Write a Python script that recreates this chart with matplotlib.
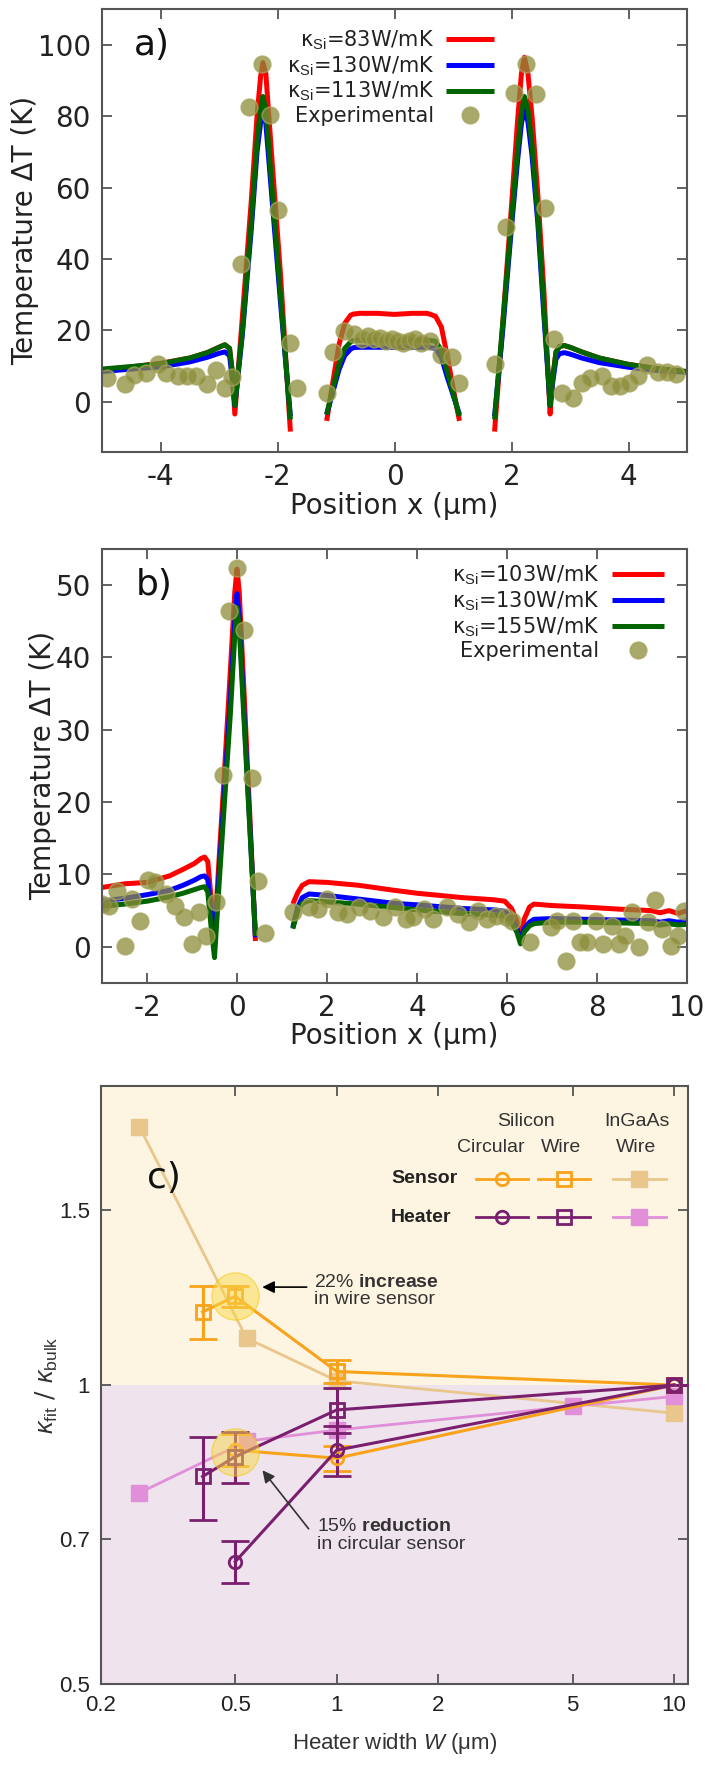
import matplotlib
matplotlib.use('Agg')
import matplotlib.pyplot as plt
from matplotlib.ticker import FixedLocator, NullLocator, FixedFormatter

plt.rcParams['font.family'] = ['DejaVu Sans']
plt.rcParams['mathtext.fontset'] = 'custom'
plt.rcParams['mathtext.rm'] = 'Liberation Sans'
plt.rcParams['mathtext.it'] = 'Liberation Sans:italic'
plt.rcParams['mathtext.bf'] = 'Liberation Sans:bold'

# ---- panel a: three simulated segments per curve + experiment
a_left_x = [-5, -4.5, -4, -3.5, -3.2, -3.0, -2.9, -2.82, -2.77, -2.73, -2.6, -2.45, -2.35, -2.29, -2.25, -2.2, -2.1, -1.95, -1.78]
a_left_red = [9, 9.8, 10.8, 12.3, 13.8, 15.3, 16, 15, 8, -3.4, 24, 56, 80, 91, 95, 92, 69, 36, -8.3]
a_left_blue = [8.5, 9.2, 9.8, 11.2, 12.5, 13.6, 14, 13, 6, -1, 19, 48, 70, 78, 81.5, 78, 58, 28, -4]
a_left_green = [9.2, 9.9, 10.7, 12.3, 13.8, 15.3, 16, 15, 8, -1, 20, 50, 73, 82, 85.5, 82, 61, 30, -4.9]
a_mid_x = [-1.16, -1.05, -0.95, -0.85, -0.75, -0.7, -0.6, -0.3, 0, 0.3, 0.56, 0.7, 0.8, 0.9, 1.0, 1.11]
a_mid_red = [-5.3, 6, 16, 22, 24.3, 24.6, 24.8, 24.8, 24.5, 24.8, 24.8, 24, 21, 13, 4, -5.3]
a_mid_blue = [-3.5, 3, 9, 13, 14.8, 15.2, 15.3, 15.3, 15.3, 15.3, 15.3, 15, 12.5, 7, 2, -3.5]
a_mid_green = [-3.5, 4, 10.5, 15, 16.8, 17.2, 17.3, 17.3, 17.2, 17.3, 17.3, 17, 14.5, 8.5, 2.5, -4]
a_right_x = [1.71, 1.85, 2.0, 2.1, 2.17, 2.22, 2.28, 2.35, 2.45, 2.55, 2.66, 2.7, 2.76, 2.82, 2.9, 3.0, 3.2, 3.5, 4.0, 4.5, 5.0]
a_right_red = [-8.3, 22, 55, 78, 92, 96.5, 92, 80, 58, 32, -3.4, 6, 14, 15.5, 15.8, 15.3, 14, 12.3, 10.5, 9.3, 8.5]
a_right_blue = [-4, 20, 49, 67, 78, 82, 78.5, 69, 50, 25, -1, 5, 12, 13.5, 13.8, 13.4, 12.3, 11, 9.7, 8.8, 8.3]
a_right_green = [-4.9, 22, 51, 70, 81, 85.5, 82, 72, 52, 27, -1, 6, 14, 15.5, 15.8, 15.3, 14, 12.3, 10.5, 9.3, 8.5]
a_exp_x = [-4.92, -4.6, -4.45, -4.25, -4.05, -3.9, -3.7, -3.55, -3.4, -3.2, -3.05, -2.9, -2.78,
           -2.63, -2.48, -2.27, -2.12, -1.99, -1.79, -1.66,
           -1.16, -1.05, -0.86, -0.7, -0.55, -0.45, -0.35, -0.25, -0.15, -0.05, 0.05, 0.15, 0.25, 0.35, 0.45, 0.6,
           0.79, 0.98, 1.11,
           1.71, 1.9, 2.05, 2.24, 2.42, 2.57, 2.73, 2.86, 3.05, 3.2, 3.35, 3.55, 3.7, 3.85, 4.0, 4.16, 4.31, 4.5, 4.66, 4.81]
a_exp_y = [6.8, 4.9, 7.5, 8.0, 10.7, 8.0, 7.3, 7.3, 7.3, 5.0, 8.8, 4.0, 7.0,
           38.6, 82.7, 94.7, 80.3, 53.6, 16.5, 3.9,
           2.4, 14.1, 19.9, 18.9, 17.5, 18.5, 17.5, 18, 17, 17.5, 17, 16.5, 17, 17.5, 16.5, 17,
           13.1, 12.6, 5.3,
           10.7, 49, 86.6, 94.7, 86.2, 54.4, 17.5, 2.4, 1.0, 5.3, 6.8, 7.3, 4.4, 4.4, 5.3, 7.3, 10.2, 8.3, 8.3, 7.8]
a_labels = ['κ$_{\\rm Si}$=83W/mK', 'κ$_{\\rm Si}$=130W/mK', 'κ$_{\\rm Si}$=113W/mK', 'Experimental']

# ---- panel b
b_left_x = [-3, -2.5, -2, -1.5, -1.2, -0.95, -0.8, -0.72, -0.65, -0.58, -0.5, -0.4, -0.3, -0.15, -0.05, 0, 0.05, 0.15, 0.3, 0.41]
b_left_red = [8.2, 8.7, 8.9, 9.8, 10.7, 11.5, 12.2, 12.4, 11.8, 7, 1.3, 12, 22, 38, 49, 52.2, 49, 36, 16, 0.8]
b_left_blue = [6.3, 6.7, 7.2, 7.8, 8.5, 9.2, 9.7, 9.8, 9.3, 5, 0.5, 10, 19.5, 34, 45, 48.8, 45.5, 33, 15, 1.3]
b_left_green = [5.6, 5.9, 6.3, 6.9, 7.4, 7.9, 8.2, 8.3, 7.6, 3, -1.5, 8.5, 18, 32, 43, 46.9, 44, 32, 14.5, 1.5]
b_right_x = [1.24, 1.35, 1.45, 1.6, 2.0, 2.7, 3.5, 4.0, 5.0, 5.7, 5.95, 6.1, 6.22, 6.3, 6.38, 6.5, 6.6, 7.0, 7.7, 8.5, 9.2, 9.4, 9.6, 9.8, 10]
b_right_red = [5.9, 7.5, 8.5, 9.0, 8.9, 8.5, 7.8, 7.4, 6.8, 6.5, 6.3, 5.3, 3.5, 1.1, 3.8, 5.5, 5.9, 5.7, 5.5, 5.2, 5.0, 4.7, 5.0, 4.6, 5.0]
b_right_blue = [2.7, 5.5, 6.8, 7.3, 7.1, 6.6, 6.0, 5.8, 5.3, 5.1, 4.9, 4.0, 2.5, 0.8, 2.5, 3.4, 3.8, 3.9, 3.8, 3.7, 3.6, 3.4, 3.6, 3.4, 3.6]
b_right_green = [2.5, 5, 6.0, 6.4, 6.2, 5.9, 5.4, 5.1, 4.6, 4.4, 4.2, 3.4, 2.0, 0.4, 2.0, 2.9, 3.2, 3.4, 3.4, 3.3, 3.2, 3.0, 3.2, 3.0, 3.1]
b_exp_x = [-2.99, -2.84, -2.66, -2.48, -2.33, -2.15, -1.98, -1.83, -1.58, -1.38, -1.18, -1.0, -0.85, -0.7, -0.47,
           -0.32, -0.17, 0, 0.16, 0.33, 0.46, 0.63,
           1.24, 1.59, 1.79, 1.99, 2.24, 2.44, 2.7, 2.95, 3.25, 3.5, 3.75, 3.9, 4.15, 4.36, 4.66, 4.91, 5.16, 5.36,
           5.56, 5.76, 5.97, 6.12, 6.52, 6.97, 7.12, 7.32, 7.47, 7.63, 7.78, 7.98, 8.13, 8.33, 8.48, 8.63, 8.78,
           8.93, 9.13, 9.29, 9.44, 9.64, 9.79, 9.94]
b_exp_y = [5.9, 5.7, 7.7, 0.1, 6.6, 3.6, 9.2, 8.9, 7.3, 5.7, 4.1, 0.4, 4.8, 1.5, 6.2,
           23.8, 46.4, 52.3, 43.8, 23.3, 9.1, 1.9,
           4.8, 5.5, 5.2, 6.6, 4.8, 4.5, 5.5, 5.0, 4.1, 5.5, 3.8, 4.1, 5.2, 3.8, 5.5, 4.5, 3.4, 5.0,
           3.8, 4.3, 4.1, 3.6, 0.6, 2.8, 3.6, -2.0, 3.6, 0.6, 0.6, 3.6, 0.4, 2.9, 0.4, 1.5, 4.8,
           0.0, 3.4, 6.4, 2.5, 0.1, 1.5, 5.0]
b_labels = ['κ$_{\\rm Si}$=103W/mK', 'κ$_{\\rm Si}$=130W/mK', 'κ$_{\\rm Si}$=155W/mK', 'Experimental']

# ---- panel c (log-log)
sens_circ_w = [0.5, 1, 10]
sens_circ_k = [0.86, 0.844, 1.0]
sens_circ_err = [0.032, 0.024, 0]
sens_wire_w = [0.4, 0.5, 1, 10]
sens_wire_k = [1.185, 1.228, 1.032, 1.0]
sens_wire_err = [0.073, 0.03, 0.028, 0]
heat_circ_w = [0.5, 1, 10]
heat_circ_k = [0.664, 0.86, 1.0]
heat_circ_err = [0.032, 0.05, 0]
heat_wire_w = [0.4, 0.5, 1, 10]
heat_wire_k = [0.809, 0.847, 0.944, 1.0]
heat_wire_err = [0.077, 0.05, 0.05, 0]
ingaas_sens_w = [0.26, 0.54, 1, 10]
ingaas_sens_k = [1.82, 1.115, 1.01, 0.937]
ingaas_heat_w = [0.26, 0.54, 1, 5, 10]
ingaas_heat_k = [0.779, 0.878, 0.901, 0.952, 0.974]
highlight_w = [0.5, 0.5]
highlight_k = [1.228, 0.857]

RED, BLUE, GREEN = '#ff0000', '#0000ff', '#006400'
OLIVE = '#8c8c3a'
ORANGE, PURPLE, TAN, PINK = '#f9a21b', '#7a1f6e', '#e8c68c', '#e08fd8'
GRAY = '#555555'

fig = plt.figure(figsize=(7.05, 17.66), dpi=100)
ax_a = fig.add_axes([0.1447, 0.7441, 0.8298, 0.2508])
ax_b = fig.add_axes([0.1447, 0.4434, 0.8298, 0.2458])
ax_c = fig.add_axes([0.1433, 0.0464, 0.8326, 0.3386])


def style_ax(ax, fs, fam):
    for s in ax.spines.values():
        s.set_color(GRAY); s.set_linewidth(1.5)
    ax.tick_params(which='both', direction='in', top=True, right=True, length=7, width=1.3,
                   color=GRAY, labelsize=fs, pad=8)
    for t in ax.get_xticklabels() + ax.get_yticklabels():
        t.set_family(fam); t.set_color('#222222')


def temp_panel(ax, segs, ex, ey, labels, xlim, ylim, xt, yt, tag, tagxy, leg_anchor, ylab_x, hlen):
    lw = 3.6
    for i, (xs, r, b, g) in enumerate(segs):
        ax.plot(xs, r, color=RED, lw=lw, label=labels[0] if i == 0 else None, solid_capstyle='butt')
        ax.plot(xs, b, color=BLUE, lw=lw, label=labels[1] if i == 0 else None, solid_capstyle='butt')
        ax.plot(xs, g, color=GREEN, lw=lw, label=labels[2] if i == 0 else None, solid_capstyle='butt')
    ax.plot(ex, ey, 'o', ms=12, mfc=OLIVE, mec='#a3a35a', mew=1.2, alpha=0.75, ls='none', label=labels[3])
    ax.set_xlim(*xlim); ax.set_ylim(*ylim)
    ax.set_xticks(xt); ax.set_yticks(yt)
    ax.set_xticklabels([str(v) for v in xt]); ax.set_yticklabels([str(v) for v in yt])
    style_ax(ax, 20, 'DejaVu Sans')
    ax.set_xlabel('Position x (μm)', fontsize=20, color='#222222')
    ax.set_ylabel('Temperature ΔT (K)', fontsize=20, color='#222222')
    ax.xaxis.set_label_coords(0.5, -0.122); ax.xaxis.label.set_va('center')
    ax.yaxis.set_label_coords(ylab_x, 0.5); ax.yaxis.label.set_va('center')
    ax.text(tagxy[0], tagxy[1], tag, fontsize=26, va='center', ha='left', color='#111111')
    ax.legend(loc='upper right', bbox_to_anchor=leg_anchor, frameon=False, markerfirst=False,
              fontsize=15, handlelength=hlen, handletextpad=0.6, labelspacing=0.12,
              borderaxespad=0, labelcolor='#222222')


temp_panel(ax_a,
           [(a_left_x, a_left_red, a_left_blue, a_left_green),
            (a_mid_x, a_mid_red, a_mid_blue, a_mid_green),
            (a_right_x, a_right_red, a_right_blue, a_right_green)],
           a_exp_x, a_exp_y, a_labels, (-5, 5), (-14, 110),
           [-4, -2, 0, 2, 4], [0, 20, 40, 60, 80, 100], 'a)', (-4.45, 100), (0.685, 0.975), -0.132, 2.3)
temp_panel(ax_b,
           [(b_left_x, b_left_red, b_left_blue, b_left_green),
            (b_right_x, b_right_red, b_right_blue, b_right_green)],
           b_exp_x, b_exp_y, b_labels, (-3, 10), (-5, 55),
           [-2, 0, 2, 4, 6, 8, 10], [0, 10, 20, 30, 40, 50], 'b)', (-2.25, 50), (0.975, 0.985), -0.1, 2.5)

# ---- panel c
ax = ax_c
ax.set_xscale('log'); ax.set_yscale('log')
ax.set_xlim(0.2, 11); ax.set_ylim(0.5, 2.0)
ax.axhspan(1.0, 2.0, color='#fdf5e2', zorder=0, lw=0)
ax.axhspan(0.5, 1.0, color='#efe3ee', zorder=0, lw=0)
ax.plot(ingaas_sens_w, ingaas_sens_k, '-s', color=TAN, lw=2, ms=11, zorder=2)
ax.plot(ingaas_heat_w, ingaas_heat_k, '-s', color=PINK, lw=2, ms=11, zorder=2)
ekw = dict(lw=2.2, elinewidth=2.2, capsize=10, capthick=2.2, mew=2, mfc='none', zorder=3)
ax.errorbar(sens_circ_w, sens_circ_k, yerr=sens_circ_err, fmt='-o', color=ORANGE, ms=9, **ekw)
ax.errorbar(sens_wire_w, sens_wire_k, yerr=sens_wire_err, fmt='-s', color=ORANGE, ms=10, **ekw)
ax.errorbar(heat_circ_w, heat_circ_k, yerr=heat_circ_err, fmt='-o', color=PURPLE, ms=9, **ekw)
ax.errorbar(heat_wire_w, heat_wire_k, yerr=heat_wire_err, fmt='-s', color=PURPLE, ms=10, **ekw)
ax.plot(highlight_w, highlight_k, 'o', ms=34, mfc='#f8d84a', mec='#f5c800', mew=1, alpha=0.5, ls='none', zorder=4)

ax.xaxis.set_major_locator(FixedLocator([0.2, 0.5, 1, 2, 5, 10]))
ax.xaxis.set_major_formatter(FixedFormatter(['0.2', '0.5', '1', '2', '5', '10']))
ax.yaxis.set_major_locator(FixedLocator([0.5, 0.7, 1, 1.5]))
ax.yaxis.set_major_formatter(FixedFormatter(['0.5', '0.7', '1', '1.5']))
ax.xaxis.set_minor_locator(NullLocator()); ax.yaxis.set_minor_locator(NullLocator())
style_ax(ax, 16, 'Liberation Sans')
ax.set_xlabel('Heater width $W$ (μm)', fontsize=16, family='Liberation Sans', color='#333333')
ax.set_ylabel('$\\kappa_{\\rm fit}$ / $\\kappa_{\\rm bulk}$', fontsize=18, color='#333333')
ax.xaxis.set_label_coords(0.5, -0.10); ax.xaxis.label.set_va('center')
ax.yaxis.set_label_coords(-0.092, 0.5); ax.yaxis.label.set_va('center')
ax.text(0.274, 1.615, 'c)', fontsize=26, va='center', ha='left', color='#111111')

# annotations
ax.annotate('', xy=(0.59, 1.255), xytext=(0.83, 1.255),
            arrowprops=dict(arrowstyle='-|>', color='black', lw=1.2, mutation_scale=18), zorder=5)
ax.text(0.855, 1.295, '22% $\\bf{increase}$\nin wire sensor', fontsize=14, va='top', ha='left',
        family='Liberation Sans', color='#333333', linespacing=1.05)
ax.annotate('', xy=(0.595, 0.825), xytext=(0.835, 0.713),
            arrowprops=dict(arrowstyle='-|>', color='#333333', lw=1.2, mutation_scale=18), zorder=5)
ax.text(0.873, 0.735, '15% $\\bf{reduction}$\nin circular sensor', fontsize=14, va='top', ha='left',
        family='Liberation Sans', color='#333333', linespacing=1.05)

# hand-built legend table
tr = ax.transAxes
hdr = dict(transform=tr, fontsize=14, family='Liberation Sans', color='#333333', ha='center', va='center')
ax.text(0.724, 0.94, 'Silicon', **hdr)
ax.text(0.664, 0.898, 'Circular', **hdr)
ax.text(0.783, 0.898, 'Wire', **hdr)
ax.text(0.913, 0.94, 'InGaAs', **hdr)
ax.text(0.912, 0.898, 'Wire', **hdr)
ax.text(0.607, 0.845, 'Sensor', transform=tr, fontsize=14, family='Liberation Sans', weight='bold',
        color='#222222', ha='right', va='center')
ax.text(0.597, 0.781, 'Heater', transform=tr, fontsize=14, family='Liberation Sans', weight='bold',
        color='#222222', ha='right', va='center')
for yy, col, pcol in [(0.845, ORANGE, TAN), (0.781, PURPLE, PINK)]:
    ax.plot([0.639, 0.727], [yy, yy], color=col, lw=2, transform=tr)
    ax.plot([0.683], [yy], 'o', color=col, ms=9, mfc='none', mew=2, transform=tr)
    ax.plot([0.744, 0.833], [yy, yy], color=col, lw=2, transform=tr)
    ax.plot([0.788], [yy], 's', color=col, ms=10, mfc='none', mew=2, transform=tr)
    ax.plot([0.873, 0.962], [yy, yy], color=pcol, lw=2, transform=tr)
    ax.plot([0.917], [yy], 's', color=pcol, ms=11, transform=tr)

fig.savefig('out.png', dpi=100)
